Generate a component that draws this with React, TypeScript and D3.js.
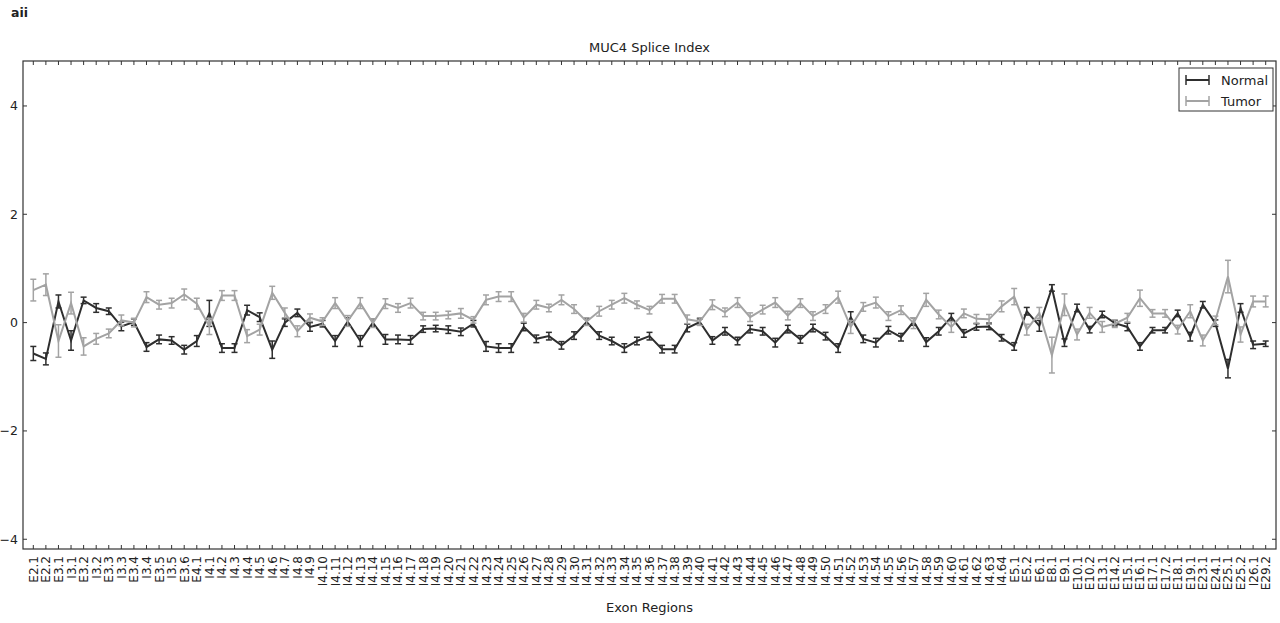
import React from "react";
import * as d3 from "d3";

// Exon / intron regions along the MUC4 transcript
const exonRegions = [
  "E2.1", "E2.2", "E3.1", "I3.1", "E3.2", "I3.2", "E3.3", "I3.3", "E3.4", "I3.4",
  "E3.5", "I3.5", "E3.6", "E4.1",
  "I4.1", "I4.2", "I4.3", "I4.4", "I4.5", "I4.6", "I4.7", "I4.8", "I4.9", "I4.10",
  "I4.11", "I4.12", "I4.13", "I4.14", "I4.15", "I4.16", "I4.17", "I4.18", "I4.19", "I4.20",
  "I4.21", "I4.22", "I4.23", "I4.24", "I4.25", "I4.26", "I4.27", "I4.28", "I4.29", "I4.30",
  "I4.31", "I4.32", "I4.33", "I4.34", "I4.35", "I4.36", "I4.37", "I4.38", "I4.39", "I4.40",
  "I4.41", "I4.42", "I4.43", "I4.44", "I4.45", "I4.46", "I4.47", "I4.48", "I4.49", "I4.50",
  "I4.51", "I4.52", "I4.53", "I4.54", "I4.55", "I4.56", "I4.57", "I4.58", "I4.59", "I4.60",
  "I4.61", "I4.62", "I4.63", "I4.64",
  "E5.1", "E5.2", "E6.1", "E8.1", "E9.1", "E10.1", "E10.2", "E13.1", "E14.2", "E15.1",
  "E16.1", "E17.1", "E17.2", "E18.1", "E19.1", "E23.1", "E24.1", "E25.1", "E25.2", "I26.1",
  "E29.2",
];

// Splice index per region, normal tissue
const normalSI = [
  -0.57, -0.67, 0.39, -0.33, 0.41, 0.27, 0.21, -0.07, 0.01, -0.45,
  -0.31, -0.33, -0.5, -0.34, 0.17, -0.47, -0.47, 0.23, 0.1, -0.5,
  0.0, 0.18, -0.08, -0.02, -0.34, 0.02, -0.34, 0.0, -0.31, -0.31,
  -0.32, -0.12, -0.11, -0.13, -0.17, -0.02, -0.44, -0.47, -0.47, -0.08,
  -0.3, -0.25, -0.42, -0.24, 0.01, -0.24, -0.34, -0.47, -0.34, -0.25,
  -0.49, -0.49, -0.1, 0.01, -0.33, -0.16, -0.34, -0.12, -0.16, -0.37,
  -0.12, -0.31, -0.1, -0.25, -0.47, 0.1, -0.3, -0.37, -0.14, -0.27,
  0.02, -0.36, -0.16, 0.1, -0.2, -0.08, -0.07, -0.28, -0.44, 0.21,
  -0.06, 0.64, -0.37, 0.27, -0.13, 0.15, -0.01, -0.08, -0.44, -0.14,
  -0.14, 0.17, -0.26, 0.33, -0.01, -0.85, 0.27, -0.41, -0.39,
];

const normalErr = [
  0.13, 0.11, 0.12, 0.18, 0.06, 0.08, 0.06, 0.08, 0.06, 0.08,
  0.08, 0.07, 0.08, 0.1, 0.24, 0.08, 0.08, 0.09, 0.08, 0.16,
  0.07, 0.07, 0.08, 0.06, 0.1, 0.07, 0.1, 0.07, 0.09, 0.08,
  0.08, 0.06, 0.06, 0.07, 0.07, 0.06, 0.09, 0.08, 0.08, 0.07,
  0.07, 0.07, 0.07, 0.07, 0.06, 0.07, 0.07, 0.08, 0.07, 0.07,
  0.07, 0.07, 0.07, 0.06, 0.07, 0.07, 0.07, 0.07, 0.07, 0.08,
  0.07, 0.07, 0.07, 0.07, 0.08, 0.1, 0.07, 0.08, 0.07, 0.07,
  0.07, 0.08, 0.07, 0.07, 0.07, 0.06, 0.06, 0.06, 0.07, 0.07,
  0.1, 0.06, 0.07, 0.07, 0.06, 0.06, 0.05, 0.07, 0.07, 0.05,
  0.05, 0.06, 0.08, 0.06, 0.06, 0.17, 0.08, 0.07, 0.05,
];

// Splice index per region, tumor tissue
const tumorSI = [
  0.6, 0.7, -0.34, 0.36, -0.44, -0.3, -0.2, 0.04, 0.0, 0.47,
  0.33, 0.36, 0.52, 0.35, -0.07, 0.5, 0.5, -0.25, -0.13, 0.55,
  0.18, -0.16, 0.09, 0.02, 0.36, 0.03, 0.36, -0.01, 0.35, 0.27,
  0.36, 0.12, 0.12, 0.14, 0.17, 0.05, 0.42, 0.48, 0.48, 0.09,
  0.33, 0.27, 0.42, 0.25, 0.02, 0.21, 0.33, 0.45, 0.33, 0.23,
  0.44, 0.44, 0.06, 0.02, 0.33, 0.19, 0.37, 0.1, 0.24, 0.37,
  0.13, 0.36, 0.12, 0.25, 0.47, -0.08, 0.29, 0.37, 0.12, 0.23,
  -0.01, 0.42, 0.15, -0.08, 0.17, 0.07, 0.06, 0.3, 0.48, -0.13,
  0.18, -0.6, 0.33, -0.22, 0.18, -0.08, -0.02, 0.09, 0.45, 0.17,
  0.17, -0.13, 0.21, -0.33, 0.04, 0.85, -0.22, 0.39, 0.39,
];

const tumorErr = [
  0.2, 0.2, 0.3, 0.2, 0.16, 0.1, 0.08, 0.1, 0.08, 0.1,
  0.08, 0.09, 0.1, 0.1, 0.15, 0.09, 0.09, 0.12, 0.1, 0.12,
  0.09, 0.1, 0.07, 0.07, 0.1, 0.1, 0.1, 0.08, 0.09, 0.08,
  0.09, 0.07, 0.07, 0.07, 0.09, 0.06, 0.09, 0.09, 0.09, 0.08,
  0.08, 0.07, 0.09, 0.08, 0.07, 0.09, 0.08, 0.09, 0.07, 0.07,
  0.08, 0.08, 0.08, 0.07, 0.09, 0.08, 0.09, 0.08, 0.08, 0.09,
  0.08, 0.08, 0.08, 0.08, 0.11, 0.12, 0.08, 0.1, 0.08, 0.08,
  0.1, 0.12, 0.08, 0.1, 0.08, 0.08, 0.09, 0.1, 0.15, 0.1,
  0.1, 0.33, 0.2, 0.1, 0.1, 0.1, 0.07, 0.08, 0.15, 0.07,
  0.07, 0.08, 0.12, 0.1, 0.08, 0.3, 0.14, 0.1, 0.1,
];

const yTicks = [-4, -2, 0, 2, 4];

const W = 1280;
const H = 623;
const plot = { left: 23, right: 1276, top: 61, bottom: 549 };
const FONT = "'DejaVu Sans', sans-serif";
const AXIS = "#333";

type Series = { name: string; values: number[]; errors: number[]; color: string };

const series: Series[] = [
  { name: "Normal", values: normalSI, errors: normalErr, color: "#2e2e2e" },
  { name: "Tumor", values: tumorSI, errors: tumorErr, color: "#a3a3a3" },
];

export default function App() {
  const x = d3
    .scalePoint<string>()
    .domain(exonRegions)
    .range([plot.left, plot.right])
    .padding(0.82);
  const y = d3.scaleLinear().domain([-4.18, 4.83]).range([plot.bottom, plot.top]);

  const line = d3
    .line<number>()
    .x((_, i) => x(exonRegions[i]) as number)
    .y((v) => y(v));

  const capHalf = 3;
  const tickLen = 4;
  const cx = (plot.left + plot.right) / 2;

  return (
    <svg
      width={W}
      height={H}
      style={{ position: "absolute", left: 0, top: 0, background: "#fff" }}
      fontFamily={FONT}
    >
      <text x={11} y={17} fontSize={12.5} fontWeight="bold" fill="#222">
        aii
      </text>
      <text x={cx} y={52} fontSize={13} textAnchor="middle" fill="#222">
        MUC4 Splice Index
      </text>

      {/* series: line + vertical error bars with caps */}
      {series.map((s) => (
        <g key={s.name} stroke={s.color} fill="none">
          <path d={line(s.values) || ""} strokeWidth={2} strokeLinejoin="miter" />
          {s.values.map((v, i) => {
            const px = x(exonRegions[i]) as number;
            const y0 = y(v - s.errors[i]);
            const y1 = y(v + s.errors[i]);
            return (
              <g key={i} strokeWidth={1.5}>
                <line x1={px} x2={px} y1={y0} y2={y1} />
                <line x1={px - capHalf} x2={px + capHalf} y1={y0} y2={y0} />
                <line x1={px - capHalf} x2={px + capHalf} y1={y1} y2={y1} />
              </g>
            );
          })}
        </g>
      ))}

      {/* frame */}
      <rect
        x={plot.left}
        y={plot.top}
        width={plot.right - plot.left}
        height={plot.bottom - plot.top}
        fill="none"
        stroke={AXIS}
        strokeWidth={1.2}
      />

      {/* x ticks (inward, top and bottom) and rotated labels */}
      {exonRegions.map((r) => {
        const px = x(r) as number;
        return (
          <g key={r}>
            <line x1={px} x2={px} y1={plot.bottom} y2={plot.bottom - tickLen} stroke={AXIS} strokeWidth={1} />
            <line x1={px} x2={px} y1={plot.top} y2={plot.top + tickLen} stroke={AXIS} strokeWidth={1} />
            <text
              transform={`translate(${px + 4.5},${plot.bottom + 7}) rotate(-90)`}
              fontSize={12}
              textAnchor="end"
              fill="#222"
            >
              {r}
            </text>
          </g>
        );
      })}

      {/* y ticks (inward, left and right) */}
      {yTicks.map((t) => (
        <g key={t}>
          <line x1={plot.left} x2={plot.left + tickLen} y1={y(t)} y2={y(t)} stroke={AXIS} strokeWidth={1} />
          <line x1={plot.right} x2={plot.right - tickLen} y1={y(t)} y2={y(t)} stroke={AXIS} strokeWidth={1} />
          <text x={plot.left - 5} y={y(t)} dy="0.35em" fontSize={12.5} textAnchor="end" fill="#222">
            {t < 0 ? `\u2212${Math.abs(t)}` : `${t}`}
          </text>
        </g>
      ))}

      <text x={cx} y={612} fontSize={13} textAnchor="middle" fill="#222">
        Exon Regions
      </text>

      {/* legend */}
      <g>
        <rect x={1179} y={68} width={94} height={43} fill="#fff" stroke={AXIS} strokeWidth={1} />
        {series.map((s, i) => {
          const ly = 80 + i * 21;
          return (
            <g key={s.name}>
              <g stroke={s.color} strokeWidth={1.5}>
                <line x1={1186} x2={1209} y1={ly} y2={ly} strokeWidth={2} />
                <line x1={1186} x2={1186} y1={ly - 5} y2={ly + 5} />
                <line x1={1209} x2={1209} y1={ly - 5} y2={ly + 5} />
              </g>
              <text x={1221} y={ly} dy="0.35em" fontSize={13} fill="#222">
                {s.name}
              </text>
            </g>
          );
        })}
      </g>
    </svg>
  );
}
